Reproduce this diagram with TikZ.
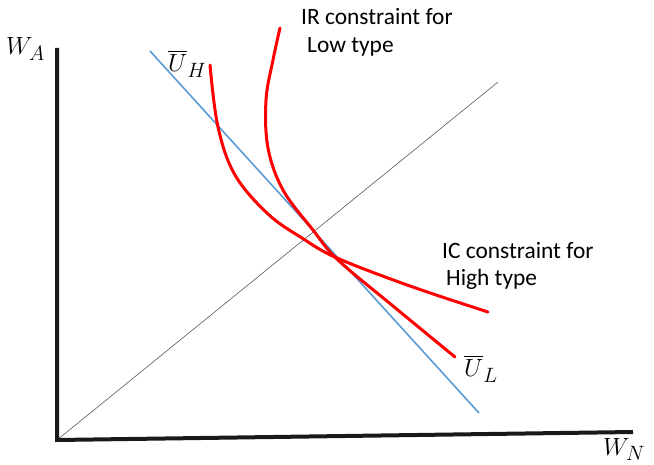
\documentclass[tikz,border=0pt]{standalone}
\usepackage{fontspec}
\setmainfont{Carlito}
\usepackage{amsmath}
\usetikzlibrary{positioning}
\definecolor{lineblue}{RGB}{91,155,213}

\begin{document}
\begin{tikzpicture}[
        x=1pt, y=-1pt,
        axis/.style={line width=4pt, line join=miter, black!90},
        budget/.style={line width=1.6pt, color=lineblue},
        diag/.style={line width=0.6pt, color=black!65},
        constraint/.style={line width=3pt, color=red, line cap=round},
        labeltext/.style={anchor=base west, inner sep=0pt, font=\fontsize{23.4}{28}\selectfont},
        mathlabel/.style={anchor=base west, inner sep=0pt, font=\Huge}
    ]
        \useasboundingbox (0,0) rectangle (654,465);
        \coordinate (origin) at (57,440);
        \coordinate (ytop) at (57,48);
        \coordinate (xend) at (633,432);
        \coordinate (diagend) at (498,82);
        \coordinate (ubartop) at (150,51);
        \coordinate (ubarbot) at (479,413);
        \draw [diag] (origin) -- (diagend);
        \draw [budget] (ubartop) -- (ubarbot);
        \draw [axis] (ytop) -- (origin) -- (xend);
        % IC constraint for the high type
        \draw [constraint] plot [smooth, tension=0.6] coordinates {(210,65) (218,127) (235,175) (268,214) (302,238) (337,258) (410,286) (488,312)};
        % IR constraint for the low type
        \draw [constraint] plot [smooth, tension=0.6] coordinates {(280,28) (273,60) (266,100) (268,148) (283,190) (313,230) (338,260) (393,306) (455,357)};
        \node (wa) [mathlabel] at (6,55) {$W_A$};
        \node (wn) [mathlabel] at (603,455) {$W_N$};
        \node (uh) [mathlabel] at (168,72) {$\overline{U}_H$};
        \node (ul) [mathlabel] at (464,377) {$\overline{U}_L$};
        \node (irone) [labeltext] at (301,25) {IR constraint for};
        \node (irtwo) [labeltext] at (307,53) {Low type};
        \node (icone) [labeltext] at (442,259) {IC constraint for};
        \node (ictwo) [labeltext] at (446,286) {High type};
    \end{tikzpicture}
\end{document}
